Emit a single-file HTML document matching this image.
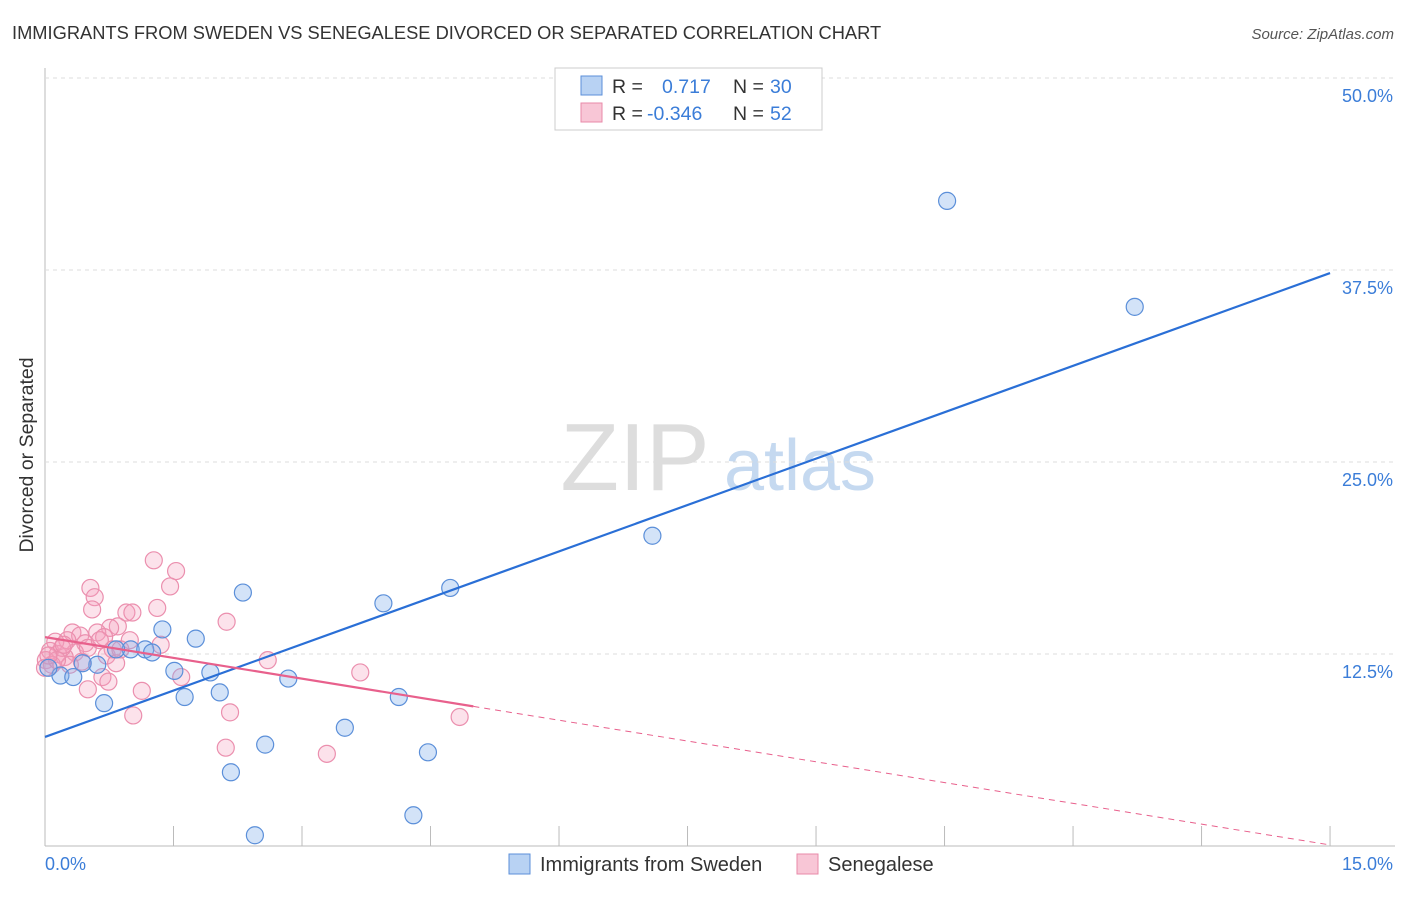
<!DOCTYPE html>
<html><head><meta charset="utf-8"><style>
body{margin:0;background:#fff;font-family:"Liberation Sans",sans-serif}
svg text{font-family:"Liberation Sans",sans-serif}
</style></head><body>
<svg id="c" width="1406" height="892">
<text x="12" y="39" font-size="18.3" fill="#333">IMMIGRANTS FROM SWEDEN VS SENEGALESE DIVORCED OR SEPARATED CORRELATION CHART</text>
<text x="1394" y="39" font-size="15" fill="#555" font-style="italic" text-anchor="end">Source: ZipAtlas.com</text>
<text x="33" y="455" font-size="19.5" fill="#333" text-anchor="middle" transform="rotate(-90 33 455)">Divorced or Separated</text>
<g><text x="635" y="490" font-size="96" fill="#ddd" font-family="Liberation Serif" text-anchor="middle">ZIP</text><text x="800" y="490" font-size="72" fill="#c5d9f0" text-anchor="middle">atlas</text></g>
<g id="grid"></g><g id="pts"></g><g id="lines"></g>
<g>
<rect x="555" y="68" width="267" height="62" fill="#fff" stroke="#ccc"/>
<rect x="581" y="76" width="21" height="19" fill="#b8d2f3" stroke="#5b8fd9"/>
<rect x="581" y="103" width="21" height="19" fill="#f8c6d6" stroke="#e88aa8"/>
<text x="612" y="93" font-size="19.5" fill="#333">R =</text><text x="662" y="93" font-size="19.5" fill="#3b7dd8">0.717</text>
<text x="733" y="93" font-size="19.5" fill="#333">N =</text><text x="770" y="93" font-size="19.5" fill="#3b7dd8">30</text>
<text x="612" y="120" font-size="19.5" fill="#333">R =</text><text x="647" y="120" font-size="19.5" fill="#3b7dd8">-0.346</text>
<text x="733" y="120" font-size="19.5" fill="#333">N =</text><text x="770" y="120" font-size="19.5" fill="#3b7dd8">52</text>
</g>
<g>
<rect x="509" y="854" width="21" height="20" fill="#b8d2f3" stroke="#5b8fd9"/>
<text x="540" y="871" font-size="20" fill="#333">Immigrants from Sweden</text>
<rect x="797" y="854" width="21" height="20" fill="#f8c6d6" stroke="#e88aa8"/>
<text x="828" y="871" font-size="20" fill="#333">Senegalese</text>
</g>
<text x="45" y="870" font-size="18" fill="#3b7dd8">0.0%</text>
<text x="1393" y="870" font-size="18" fill="#3b7dd8" text-anchor="end">15.0%</text>
</svg>
<script>
const yTicks=[12.5,25,37.5,50];
const yTickLabels=["12.5%","25.0%","37.5%","50.0%"];
const xTicks=[0,1.5,3,4.5,6,7.5,9,10.5,12,13.5,15];
const swedenX=[10.53,12.72,7.09,4.73,3.95,2.31,1.37,1.76,1.00,1.17,1.25,0.83,0.61,0.44,0.18,0.33,0.04,1.51,1.93,2.84,2.04,1.63,0.69,4.13,3.50,2.57,2.17,4.47,4.30,2.45];
const swedenY=[42.0,35.1,20.2,16.8,15.8,16.5,14.1,13.5,12.8,12.8,12.6,12.8,11.8,11.9,11.1,11.0,11.6,11.4,11.3,10.9,10.0,9.7,9.3,9.7,7.7,6.6,4.8,6.1,2.0,0.7];
const senX=[1.27,1.53,0.53,1.46,0.58,0.55,1.31,0.95,1.02,2.12,0.85,0.76,0.61,0.32,0.41,0.69,0.26,0.12,0.47,1.35,0.79,0.06,0.15,0.35,0.23,0.72,0.01,0.08,2.60,0.83,0.43,3.68,0.67,1.59,0.74,0.50,1.13,2.16,1.03,4.84,2.11,3.29,0.20,0.50,0.00,0.64,0.99,0.29,0.14,0.88,0.04,0.22];
const senY=[18.6,17.9,16.8,16.9,16.2,15.4,15.5,15.2,15.2,14.6,14.3,14.2,13.9,13.9,13.7,13.6,13.4,13.3,13.2,13.1,12.8,12.7,12.5,12.6,12.3,12.4,12.1,11.8,12.1,11.9,12.0,11.3,11.0,11.0,10.7,10.2,10.1,8.7,8.5,8.4,6.4,6.0,12.9,12.9,11.6,13.4,13.4,11.8,12.1,12.8,12.4,13.1];
const swedenLine=[7.1,37.3];
const senLine=[13.6,0.07];
const senSolidEnd=5.0;
const X=v=>45+v*85.67, Y=v=>846-v*15.36;
const NS="http://www.w3.org/2000/svg";
function mk(t,a,p){const e=document.createElementNS(NS,t);for(const k in a)e.setAttribute(k,a[k]);p.appendChild(e);return e;}
const g=document.getElementById('grid');
const ax1=mk('line',{x1:45,y1:68,x2:45,y2:846,stroke:'#bbb'},g);


const ax2=mk('line',{x1:45,y1:846,x2:1395,y2:846,stroke:'#bbb'},g);


yTicks.forEach((t,i)=>{
 const l=mk('line',{x1:45,x2:1395,y1:Y(t),y2:Y(t),stroke:'#ddd','stroke-dasharray':'4,4'},g);
 
 
 const tx=mk('text',{x:1393,y:Y(t)+24,'font-size':18,fill:'#3b7dd8','text-anchor':'end'},g);
 tx.textContent=yTickLabels[i];
 
 
});
xTicks.forEach(t=>{
 const l=mk('line',{x1:X(t),x2:X(t),y1:826,y2:846,stroke:'#bbb'},g);
 
 
});
const pg=document.getElementById('pts');
senX.forEach((x,i)=>{
 const c=mk('circle',{cx:X(x),cy:Y(senY[i]),r:8.5,fill:'rgba(244,160,188,0.3)',stroke:'#eb8fae','stroke-width':1.2},pg);
 
 
});
swedenX.forEach((x,i)=>{
 const c=mk('circle',{cx:X(x),cy:Y(swedenY[i]),r:8.5,fill:'rgba(130,175,235,0.35)',stroke:'#5b8fd9','stroke-width':1.2},pg);
 
 
});
const lg=document.getElementById('lines');
const bl=mk('line',{x1:X(0),y1:Y(swedenLine[0]),x2:X(15),y2:Y(swedenLine[1]),stroke:'#2a6fd6','stroke-width':2.2},lg);


const sy=v=>senLine[0]+(senLine[1]-senLine[0])*v/15;
const pl=mk('line',{x1:X(0),y1:Y(sy(0)),x2:X(senSolidEnd),y2:Y(sy(senSolidEnd)),stroke:'#e8608c','stroke-width':2.2},lg);


const pd=mk('line',{x1:X(senSolidEnd),y1:Y(sy(senSolidEnd)),x2:X(15),y2:Y(sy(15)),stroke:'#e8608c','stroke-width':1,'stroke-dasharray':'6,5'},lg);


</script>
</body></html>
